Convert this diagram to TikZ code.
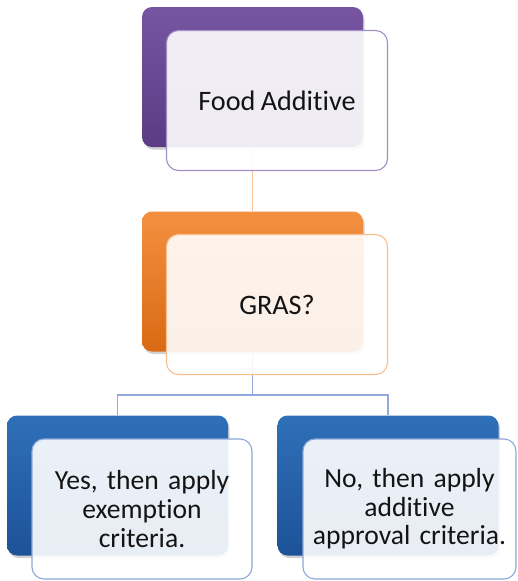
\documentclass[tikz,border=0pt]{standalone}
\usepackage{fontspec}
\setmainfont{Carlito}[Ligatures=NoCommon, WordSpace=0.85]
\usetikzlibrary{calc}

\definecolor{purpleTop}{HTML}{7655A2}
\definecolor{purpleBot}{HTML}{5B3C84}
\definecolor{purpleEdge}{HTML}{A28FC6}
\definecolor{orangeTop}{HTML}{F39040}
\definecolor{orangeBot}{HTML}{D96A14}
\definecolor{orangeEdge}{HTML}{F7BE8E}
\definecolor{orangeLink}{HTML}{F8C49A}
\definecolor{blueTop}{HTML}{2F70B8}
\definecolor{blueBot}{HTML}{1D5298}
\definecolor{blueEdge}{HTML}{8EA8D8}
\definecolor{blueLink}{HTML}{93AADA}

\tikzset{
  backbox/.style={rectangle, rounded corners=10pt, minimum width=221pt,
    minimum height=140pt, inner sep=0pt, draw=none},
  frontbox/.style={rectangle, rounded corners=12pt, minimum width=221pt,
    minimum height=140pt, inner sep=0pt, fill=white, fill opacity=0.9,
    text opacity=1, line width=1.1pt, align=center, text=black!92},
  shadowbox/.style={rectangle, rounded corners=10pt, minimum width=221pt,
    minimum height=140pt, fill=black, opacity=0.18},
  link/.style={line width=1.1pt}
}

\begin{document}
\begin{tikzpicture}[x=1pt,y=1pt]
  \useasboundingbox (0,0) rectangle (517,-581);
  \fill[white] (0,0) rectangle (517,-581);

  % soft shadows under the coloured cards
  \node[shadowbox] at (254,-79.5) {};
  \node[shadowbox] at (254,-284) {};
  \node[shadowbox] at (119,-488) {};
  \node[shadowbox] at (389.5,-488) {};

  % coloured back cards
  \node[backbox, top color=purpleTop, bottom color=purpleBot] (topback) at (252.5,-77) {};
  \node[backbox, top color=orangeTop, bottom color=orangeBot] (midback) at (252.5,-281.5) {};
  \node[backbox, top color=blueTop, bottom color=blueBot] (leftback) at (117.5,-485.5) {};
  \node[backbox, top color=blueTop, bottom color=blueBot] (rightback) at (388,-485.5) {};

  % connectors
  \coordinate (split) at (252.5,-395);
  \draw[link, orangeLink] (topback.south) -- (midback.north);
  \draw[link, blueLink] (midback.south) -- (split) -| (leftback.north);
  \draw[link, blueLink] (split) -| (rightback.north);

  % translucent front cards with the texts
  \node[frontbox, draw=purpleEdge, font=\fontsize{28.2}{33}\selectfont]
    (topfront) at (277,-100.5) {Food Additive};
  \node[frontbox, draw=orangeEdge, font=\fontsize{28.2}{33}\selectfont]
    (midfront) at (277,-304.5) {GRAS?};
  \node[frontbox, draw=blueEdge, minimum width=220pt, text width=218pt,
    font=\fontsize{27.6}{28.6}\selectfont]
    (leftfront) at (142,-509) {Yes, then apply\\exemption\\criteria.};
  \node[frontbox, draw=blueEdge, minimum width=213pt, text width=211pt,
    font=\fontsize{27.6}{28.6}\selectfont]
    (rightfront) at (409.5,-509) {No, then apply\\additive\\approval criteria.};
\end{tikzpicture}
\end{document}
